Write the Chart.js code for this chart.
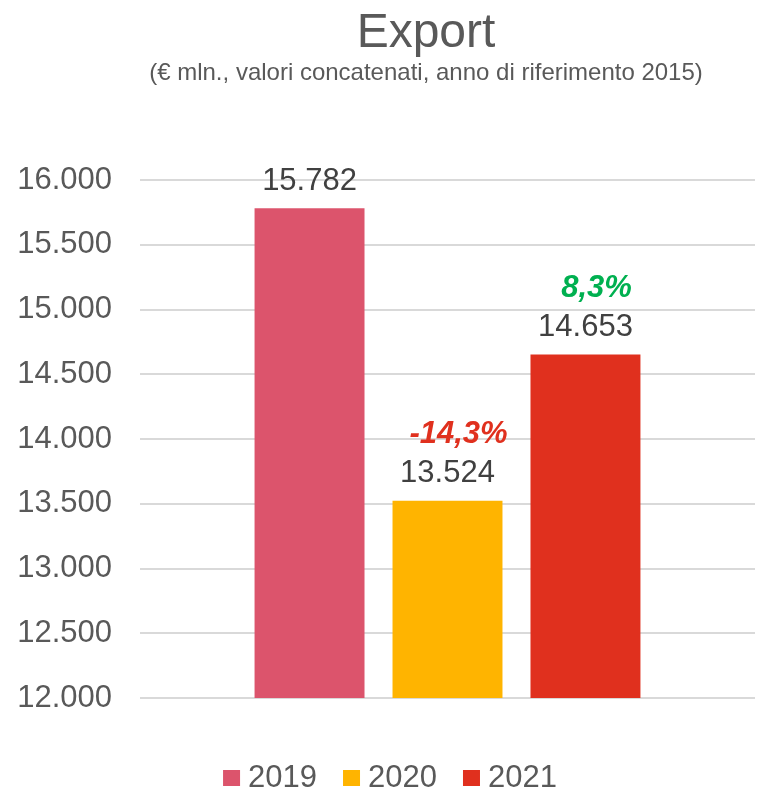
<!DOCTYPE html>
<html>
<head>
<meta charset="utf-8">
<script src="https://cdn.jsdelivr.net/npm/chart.js@4"></script>
<style>
  html, body { margin: 0; padding: 0; background: #fff; }
  #wrap { width: 761px; height: 791px; }
</style>
</head>
<body>
<div id="wrap"><canvas id="Export"></canvas></div>
<script>
// dati
const anni = ["2019", "2020", "2021"];
const valori = [15782, 13524, 14653];
const variazioni = ["", "-14,3%", "8,3%"];
const coloriBarre = ["#DC546C", "#FFB400", "#E0301E"];
const yMin = 12000;
const yMax = 16000;
const yStep = 500;

const titolo = "Export";
const sottotitolo = "(€ mln., valori concatenati, anno di riferimento 2015)";
const FONT = "'Liberation Sans', Arial, sans-serif";

const fmt = (v) => String(Math.round(v)).replace(/\B(?=(\d{3})+(?!\d))/g, ".");

// titolo, sottotitolo e legenda disegnati a mano (posizioni come nell'originale)
const intestazione = {
    id: "intestazione",
    afterDraw(chart) {
        const ctx = chart.ctx;
        ctx.save();
        ctx.textAlign = "center";
        ctx.textBaseline = "alphabetic";
        ctx.fillStyle = "#595959";
        ctx.font = "48px " + FONT;
        ctx.fillText(titolo, 426, 47);
        ctx.font = "24px " + FONT;
        ctx.fillText(sottotitolo, 426, 80);

        // legenda
        ctx.font = "31px " + FONT;
        ctx.textAlign = "left";
        const box = 17, gap = 8, spazio = 26;
        const ds = chart.data.datasets;
        const larghezze = ds.map((d) => ctx.measureText(d.label).width);
        const totale = larghezze.reduce((a, w) => a + box + gap + w, 0) + spazio * (ds.length - 1);
        let x = 390 - totale / 2;
        ds.forEach((d, i) => {
            ctx.fillStyle = d.backgroundColor;
            ctx.fillRect(x, 770, box, 16);
            ctx.fillStyle = "#595959";
            ctx.fillText(d.label, x + box + gap, 787);
            x += box + gap + larghezze[i] + spazio;
        });
        ctx.restore();
    },
};

// etichette sopra le barre (valore + variazione %)
const etichette = {
    id: "etichette",
    afterDatasetsDraw(chart) {
        const ctx = chart.ctx;
        ctx.save();
        ctx.textAlign = "center";
        ctx.textBaseline = "middle";
        chart.data.datasets.forEach((ds, i) => {
            const bar = chart.getDatasetMeta(i).data[0];
            ctx.fillStyle = "#404040";
            ctx.font = "31px " + FONT;
            ctx.fillText(fmt(ds.data[0]), bar.x, bar.y - 27);
            if (variazioni[i]) {
                const v = variazioni[i];
                ctx.fillStyle = v.startsWith("-") ? "#E0301E" : "#00B050";
                ctx.font = "italic bold 31px " + FONT;
                ctx.fillText(v, bar.x + 11, bar.y - 66);
            }
        });
        ctx.restore();
    },
};

const datasets = anni.map((a, i) => ({
    label: a,
    data: [valori[i]],
    backgroundColor: coloriBarre[i],
    barPercentage: 0.797,
    categoryPercentage: 0.673,
}));

new Chart(document.getElementById("Export"), {
    type: "bar",
    data: { labels: [""], datasets: datasets },
    plugins: [etichette, intestazione],
    options: {
        responsive: true,
        maintainAspectRatio: false,
        animation: false,
        layout: { padding: { left: 12, right: 6, top: 180, bottom: 93 } },
        plugins: {
            title: { display: false },
            legend: { display: false },
            tooltip: { enabled: false },
        },
        scales: {
            x: {
                grid: { display: false },
                border: { display: false },
                ticks: { display: false },
                afterFit: (s) => { s.height = 0; },
            },
            y: {
                min: yMin,
                max: yMax,
                afterFit: (s) => { s.width = 128; },
                ticks: {
                    stepSize: yStep,
                    color: "#595959",
                    padding: 28,
                    font: { family: FONT, size: 31 },
                    callback: (v) => fmt(v),
                },
                grid: { color: "#D9D9D9", lineWidth: 2, drawTicks: false },
                border: { display: false },
            },
        },
    },
});
</script>
</body>
</html>
